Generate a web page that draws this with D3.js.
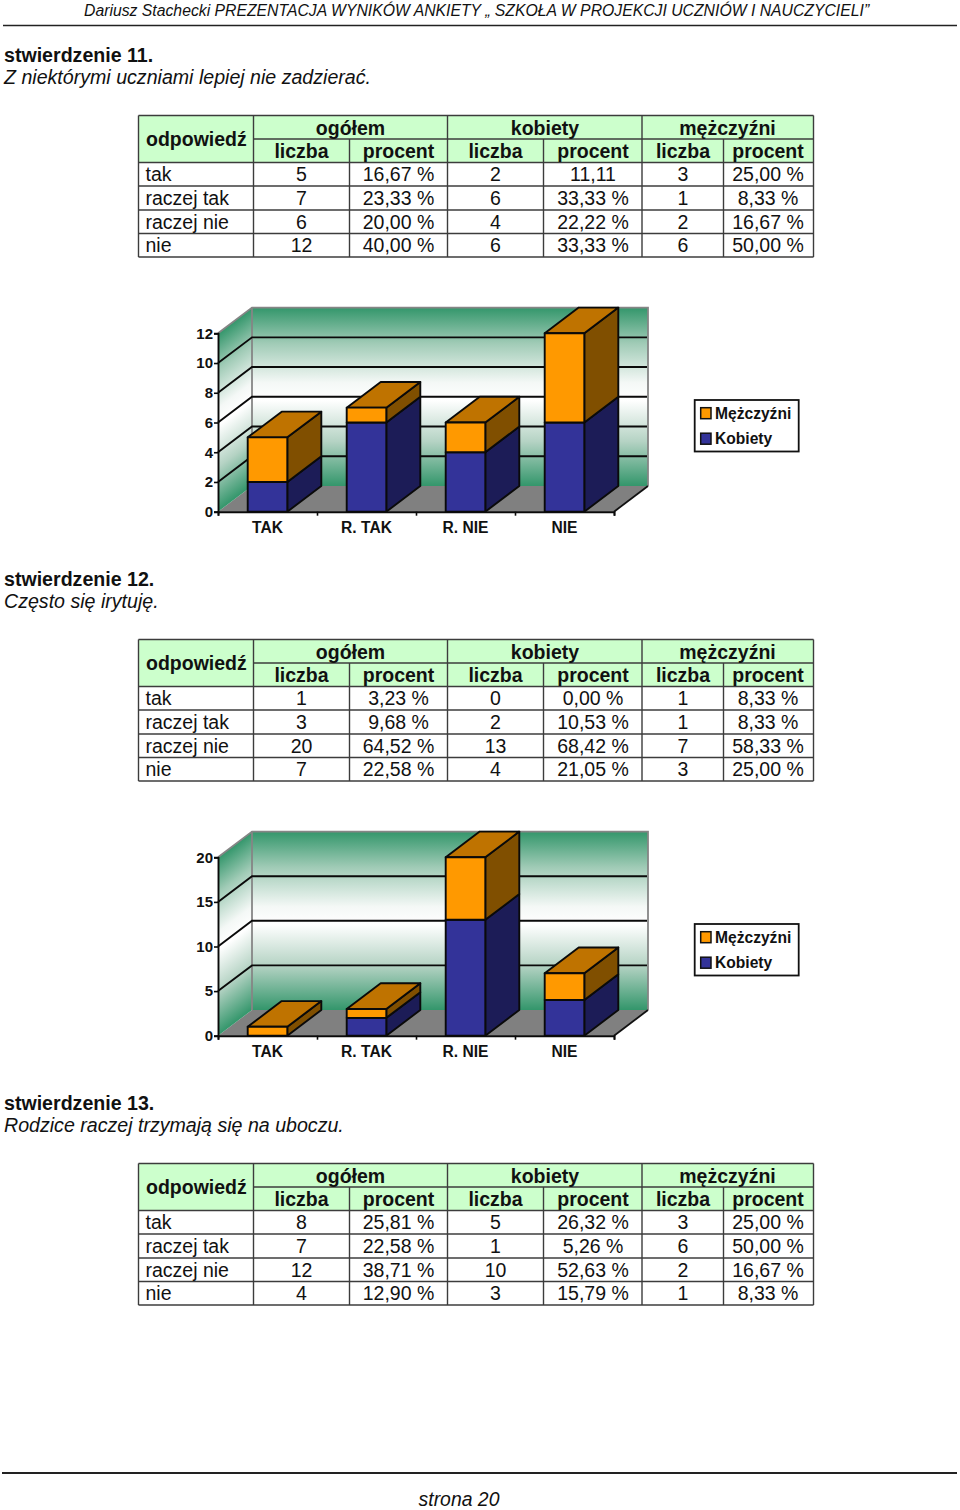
<!DOCTYPE html>
<html lang="pl">
<head>
<meta charset="utf-8">
<title>Prezentacja wyników ankiety</title>
<script src="https://cdn.jsdelivr.net/npm/d3@7/dist/d3.min.js"></script>
<style>
html,body{margin:0;padding:0;background:#fff}
svg{display:block}
text{font-family:"Liberation Sans",Arial,sans-serif;fill:#111}
</style>
</head>
<body>
<div id="page"></div>
<script>
// ---- data ----
const headerText = "Dariusz Stachecki PREZENTACJA WYNIKÓW ANKIETY „ SZKOŁA W PROJEKCJI UCZNIÓW I NAUCZYCIELI”";
const footerText = "strona 20";
const statementTitles = ["stwierdzenie 11.", "stwierdzenie 12.", "stwierdzenie 13."];
const statementTexts = ["Z niektórymi uczniami lepiej nie zadzierać.", "Często się irytuję.", "Rodzice raczej trzymają się na uboczu."];
const answers = ["tak", "raczej tak", "raczej nie", "nie"];
const groupNames = ["ogółem", "kobiety", "mężczyźni"];
const subNames = ["liczba", "procent"];
const categories = ["TAK", "R. TAK", "R. NIE", "NIE"];
const seriesNames = ["Mężczyźni", "Kobiety"];

const allCounts11 = [5, 7, 6, 12];
const allPercents11 = ["16,67 %", "23,33 %", "20,00 %", "40,00 %"];
const womenCounts11 = [2, 6, 4, 6];
const womenPercents11 = ["11,11", "33,33 %", "22,22 %", "33,33 %"];
const menCounts11 = [3, 1, 2, 6];
const menPercents11 = ["25,00 %", "8,33 %", "16,67 %", "50,00 %"];

const allCounts12 = [1, 3, 20, 7];
const allPercents12 = ["3,23 %", "9,68 %", "64,52 %", "22,58 %"];
const womenCounts12 = [0, 2, 13, 4];
const womenPercents12 = ["0,00 %", "10,53 %", "68,42 %", "21,05 %"];
const menCounts12 = [1, 1, 7, 3];
const menPercents12 = ["8,33 %", "8,33 %", "58,33 %", "25,00 %"];

const allCounts13 = [8, 7, 12, 4];
const allPercents13 = ["25,81 %", "22,58 %", "38,71 %", "12,90 %"];
const womenCounts13 = [5, 1, 10, 3];
const womenPercents13 = ["26,32 %", "5,26 %", "52,63 %", "15,79 %"];
const menCounts13 = [3, 6, 2, 1];
const menPercents13 = ["25,00 %", "50,00 %", "16,67 %", "8,33 %"];

const ticks11 = [0, 2, 4, 6, 8, 10, 12];
const ticks12 = [0, 5, 10, 15, 20];

// ---- layout ----
const W = 960, H = 1510, SECTION = 524;
const svg = d3.select("#page").append("svg").attr("width", W).attr("height", H).attr("viewBox", [0, 0, W, H]);
const defs = svg.append("defs");
const FS = 19.6;

// header / footer
svg.append("text").attr("x", 84).attr("y", 15.8).attr("font-size", 15.78).attr("font-style", "italic").text(headerText);
svg.append("line").attr("x1", 3).attr("x2", 957).attr("y1", 25.5).attr("y2", 25.5).attr("stroke", "#222").attr("stroke-width", 1.6);
svg.append("line").attr("x1", 2).attr("x2", 957).attr("y1", 1473).attr("y2", 1473).attr("stroke", "#222").attr("stroke-width", 2);
svg.append("text").attr("x", 459).attr("y", 1505.5).attr("text-anchor", "middle").attr("font-size", 19.4).attr("font-style", "italic").text(footerText);

// gradient for walls
const wallStops = [[0, "#33966b"], [0.2, "#a0cbb6"], [0.42, "#f4f8f6"], [0.52, "#ffffff"], [0.75, "#b5d3c4"], [1, "#33966b"]];
function gradient(id, attrs) {
  const g = defs.append("linearGradient").attr("id", id).attr("gradientUnits", "userSpaceOnUse");
  Object.entries(attrs).forEach(([k, v]) => g.attr(k, v));
  g.selectAll("stop").data(wallStops).join("stop").attr("offset", d => d[0]).attr("stop-color", d => d[1]);
}

function drawStatement(i) {
  const g = svg.append("g").attr("transform", `translate(0,${i * SECTION})`);
  g.append("text").attr("x", 4).attr("y", 61.5).attr("font-size", FS).attr("font-weight", "bold").text(statementTitles[i]);
  g.append("text").attr("x", 4).attr("y", 83.5).attr("font-size", FS).attr("font-style", "italic").text(statementTexts[i]);
  return g;
}

function drawTable(g, columns) {
  const colX = [138.5, 253.5, 349.5, 447.5, 543.5, 642, 723.5, 813.5];
  const rowY = [115.5, 139, 162.5, 186, 210, 233.5, 257];
  const hdr = "#ccffcc", line = "#3c3c3c";
  g.append("rect").attr("x", colX[0]).attr("y", rowY[0]).attr("width", colX[7] - colX[0]).attr("height", rowY[2] - rowY[0]).attr("fill", hdr);
  const seg = [];
  rowY.forEach((y, r) => seg.push([r === 1 ? colX[1] : colX[0], y, colX[7], y]));
  colX.forEach((x, c) => {
    const top = (c === 2 || c === 4 || c === 6) ? rowY[1] : rowY[0];
    seg.push([x, top, x, rowY[6]]);
  });
  g.selectAll("line.cell").data(seg).join("line").attr("class", "cell")
    .attr("x1", d => d[0]).attr("y1", d => d[1]).attr("x2", d => d[2]).attr("y2", d => d[3])
    .attr("stroke", line).attr("stroke-width", 1.4);

  const centers = [301.5, 398.5, 495.5, 593, 683, 768];
  const groupCenters = [350.5, 545, 727.5];
  const t = (x, y, s, bold, anchor) => g.append("text").attr("x", x).attr("y", y).attr("font-size", 19.5)
    .attr("font-weight", bold ? "bold" : null).attr("text-anchor", anchor || "middle").text(s);
  t(146, 146, "odpowiedź", true, "start");
  groupNames.forEach((n, k) => {
    t(groupCenters[k], 134.5, n, true);
    subNames.forEach((s, m) => t(centers[k * 2 + m], 158, s, true));
  });
  answers.forEach((a, r) => {
    const y = rowY[r + 2] + 18.6;
    t(145.5, y, a, false, "start");
    columns.forEach((col, c) => t(centers[c], y, col[r], false));
  });
}

function drawChart(g, idx, women, men, yMax, yTicks) {
  const x0 = 218, x1 = 614, yBase = 511.7, yTop = 333.3, dx = 34, dy = -25.7;
  const x = d3.scaleBand().domain(categories).range([x0, x1]).paddingInner(0.6).paddingOuter(0.3);
  const y = d3.scaleLinear().domain([0, yMax]).range([yBase, yTop]);
  const id = "wall" + idx, sid = "side" + idx;
  gradient(id, {x1: 0, x2: 0, y1: yTop + dy, y2: yBase + dy});
  gradient(sid, {x1: 0, x2: 0, y1: yTop, y2: yBase,
    gradientTransform: `matrix(1,${dy / dx},0,1,0,${-x0 * dy / dx})`});

  const poly = pts => "M" + pts.map(p => p.join(",")).join("L") + "Z";
  const edge = "#858585";
  // floor, side wall, back wall
  g.append("path").attr("d", poly([[x0, yBase], [x0 + dx, yBase + dy], [x1 + dx, yBase + dy], [x1, yBase]])).attr("fill", "#808080");
  g.append("path").attr("d", poly([[x0 + dx, yTop + dy], [x1 + dx, yTop + dy], [x1 + dx, yBase + dy], [x0 + dx, yBase + dy]])).attr("fill", `url(#${id})`);
  g.append("path").attr("d", poly([[x0, yTop], [x0 + dx, yTop + dy], [x0 + dx, yBase + dy], [x0, yBase]])).attr("fill", `url(#${sid})`);
  // gray wall edges
  g.append("path").attr("d", `M${x0},${yTop}L${x0 + dx},${yTop + dy}L${x1 + dx},${yTop + dy}L${x1 + dx},${yBase + dy}`).attr("fill", "none").attr("stroke", edge).attr("stroke-width", 1.8);
  g.append("line").attr("x1", x0 + dx).attr("x2", x0 + dx).attr("y1", yTop + dy).attr("y2", yBase + dy).attr("stroke", edge).attr("stroke-width", 1.8);
  // gridlines
  const grid = yTicks.filter(v => v > 0 && v < yMax);
  g.selectAll("path.grid").data(grid).join("path").attr("class", "grid").attr("fill", "none")
    .attr("stroke", "#0a0a0a").attr("stroke-width", 1.9)
    .attr("d", v => `M${x0},${y(v)}L${x0 + dx},${y(v) + dy}L${x1 + dx - 1},${y(v) + dy}`);
  // floor front-right edge
  g.append("line").attr("x1", x1).attr("y1", yBase).attr("x2", x1 + dx).attr("y2", yBase + dy).attr("stroke", "#111").attr("stroke-width", 1.8);

  // bars
  const colors = {
    w: {front: "#333399", side: "#1c1c57"},
    m: {front: "#ff9900", side: "#804f00", top: "#bf7300"}
  };
  const bars = g.append("g").attr("stroke", "#0a0a0a").attr("stroke-width", 1.9).attr("stroke-linejoin", "round");
  categories.forEach((c, k) => {
    const bx = x(c), bw = x.bandwidth();
    const box = (from, to, col, top) => {
      const yf = y(from), yt = y(to);
      if (from === to) return;
      bars.append("path").attr("fill", col.side).attr("d", poly([[bx + bw, yf], [bx + bw + dx, yf + dy], [bx + bw + dx, yt + dy], [bx + bw, yt]]));
      if (top) bars.append("path").attr("fill", col.top).attr("d", poly([[bx, yt], [bx + dx, yt + dy], [bx + bw + dx, yt + dy], [bx + bw, yt]]));
      bars.append("rect").attr("x", bx).attr("y", yt).attr("width", bw).attr("height", yf - yt).attr("fill", col.front);
    };
    box(0, women[k], colors.w, false);
    box(women[k], women[k] + men[k], colors.m, true);
  });

  // axes
  const yAxis = g.append("g").attr("transform", `translate(${x0},0)`)
    .call(d3.axisLeft(y).tickValues(yTicks).tickSize(4).tickPadding(1).tickFormat(d3.format("d")));
  const xTicks = g.append("g").attr("transform", `translate(0,${yBase})`)
    .call(d3.axisBottom(d3.scaleLinear().domain([0, categories.length]).range([x0, x1])).ticks(categories.length).tickSize(4).tickFormat(""));
  const xAxis = g.append("g").attr("transform", `translate(0,${yBase})`)
    .call(d3.axisBottom(x).tickSize(0).tickPadding(10.5));
  xAxis.select(".domain").remove();
  [yAxis, xTicks].forEach(a => {
    a.selectAll(".domain").attr("stroke", "#0a0a0a").attr("stroke-width", 1.9);
    a.selectAll(".tick line").attr("stroke", "#0a0a0a").attr("stroke-width", 1.6);
  });
  yAxis.selectAll("text").attr("font-size", 15).attr("font-weight", "bold").attr("fill", "#222");
  xAxis.selectAll("text").attr("font-size", 15.6).attr("font-weight", "bold").attr("fill", "#222");

  // legend
  const lg = g.append("g");
  lg.append("rect").attr("x", 694.7).attr("y", 400).attr("width", 104).attr("height", 51.5).attr("fill", "#fff").attr("stroke", "#111").attr("stroke-width", 1.8);
  const legendColors = [colors.m.front, colors.w.front];
  const rows = lg.selectAll("g").data(seriesNames).join("g").attr("transform", (d, i) => `translate(0,${i * 25.5})`);
  rows.append("rect").attr("x", 700.7).attr("y", 407.7).attr("width", 10.3).attr("height", 11).attr("fill", (d, i) => legendColors[i]).attr("stroke", "#111").attr("stroke-width", 1.5);
  rows.append("text").attr("x", 715).attr("y", 418.6).attr("font-size", 15.6).attr("font-weight", "bold").attr("fill", "#222").text(d => d);
}

const s11 = drawStatement(0);
drawTable(s11, [allCounts11, allPercents11, womenCounts11, womenPercents11, menCounts11, menPercents11]);
drawChart(s11, 0, womenCounts11, menCounts11, 12, ticks11);

const s12 = drawStatement(1);
drawTable(s12, [allCounts12, allPercents12, womenCounts12, womenPercents12, menCounts12, menPercents12]);
drawChart(s12, 1, womenCounts12, menCounts12, 20, ticks12);

const s13 = drawStatement(2);
drawTable(s13, [allCounts13, allPercents13, womenCounts13, womenPercents13, menCounts13, menPercents13]);
</script>
</body>
</html>
